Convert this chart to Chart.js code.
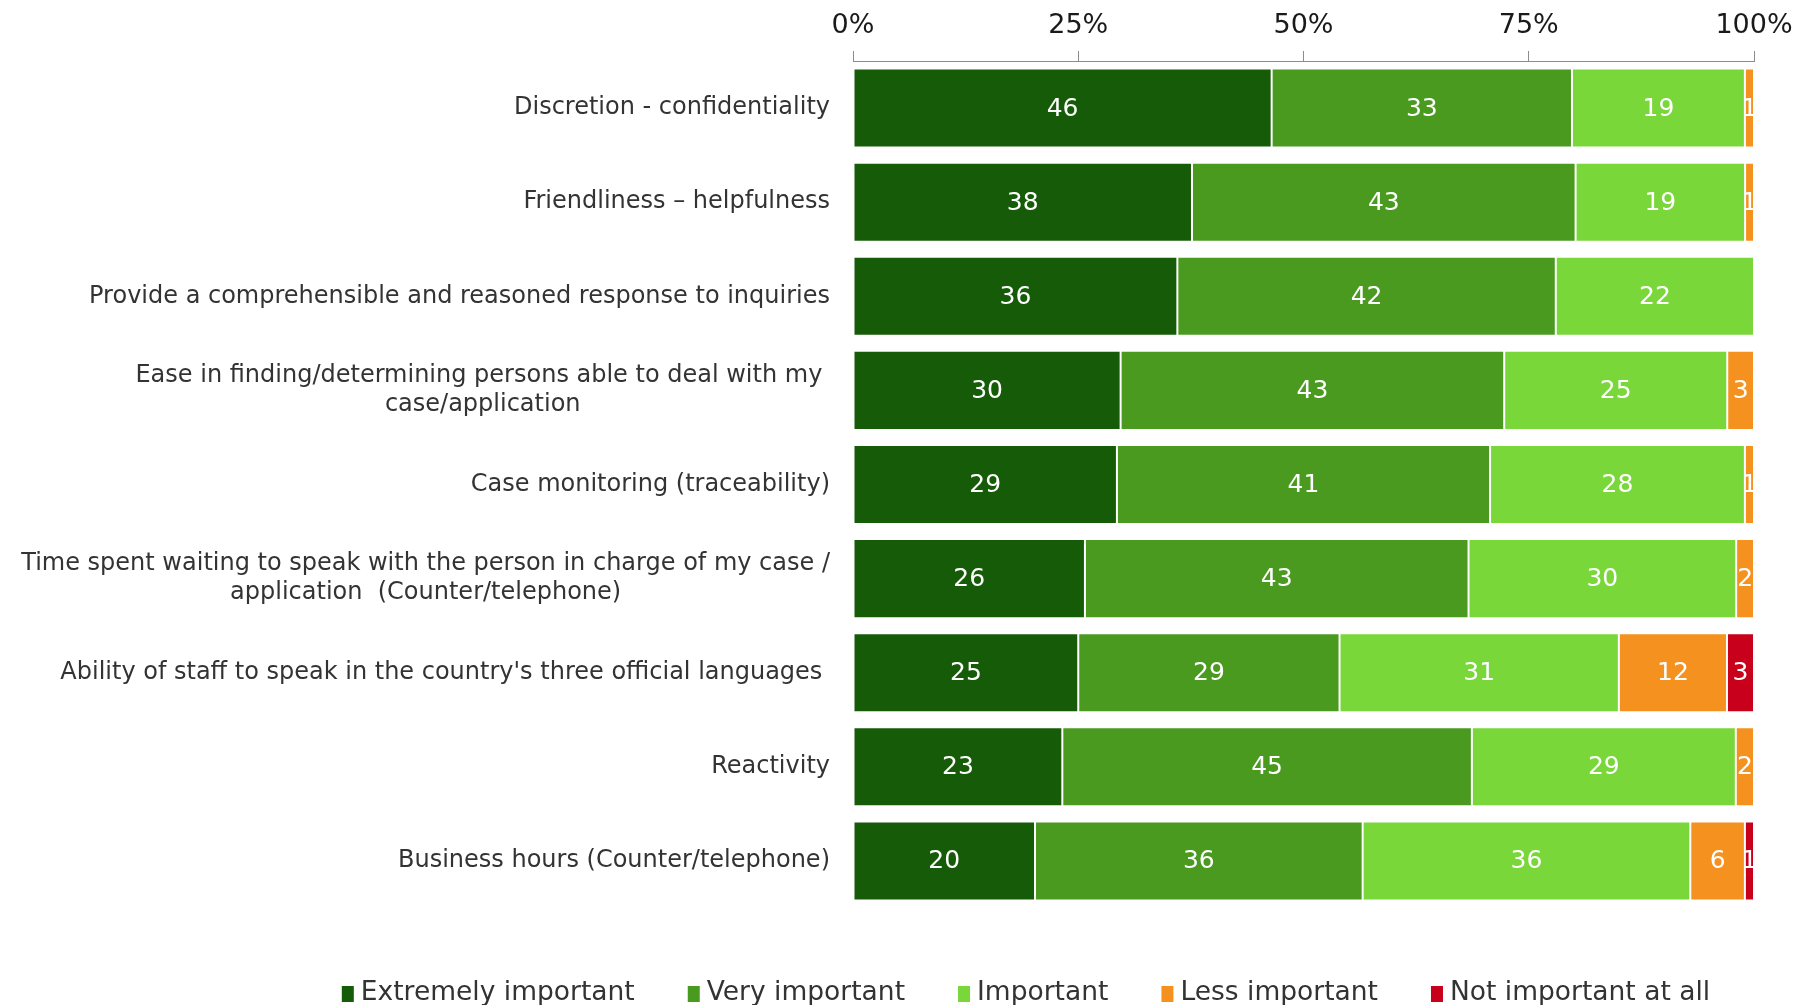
<!DOCTYPE html>
<html>
<head>
<meta charset="utf-8">
<script src="https://cdn.jsdelivr.net/npm/chart.js@4.4.0/dist/chart.umd.min.js"></script>
<style>
  html, body { margin: 0; padding: 0; background: #fff; }
  #wrap { width: 1796px; height: 1005px; position: relative; }
</style>
</head>
<body>
<div id="wrap"><canvas id="myChart"></canvas></div>
<script>
// categories, top to bottom (arrays = two-line labels)
const categories = [
    'Discretion - confidentiality',
    'Friendliness \u2013 helpfulness',
    'Provide a comprehensible and reasoned response to inquiries',
    ['Ease in finding/determining persons able to deal with my ', 'case/application'],
    'Case monitoring (traceability)',
    ['Time spent waiting to speak with the person in charge of my case /', 'application  (Counter/telephone)'],
    "Ability of staff to speak in the country's three official languages ",
    'Reactivity',
    'Business hours (Counter/telephone)'
];

const seriesNames = ['Extremely important', 'Very important', 'Important', 'Less important', 'Not important at all'];
const seriesColors = ['#165c08', '#4a9a20', '#79d73a', '#f5921f', '#c8001b'];

const extremelyImportant = [46, 38, 36, 30, 29, 26, 25, 23, 20];
const veryImportant = [33, 43, 42, 43, 41, 43, 29, 45, 36];
const important = [19, 19, 22, 25, 28, 30, 31, 29, 36];
const lessImportant = [1, 1, 0, 3, 1, 2, 12, 2, 6];
const notImportant = [0, 0, 0, 0, 0, 0, 3, 0, 1];

const xTicks = [0, 25, 50, 75, 100];

const FONT = "'DejaVu Sans', Verdana, sans-serif";

const allSeries = [extremelyImportant, veryImportant, important, lessImportant, notImportant];

// each bar is scaled to its own row total so it fills 0-100%
const rowTotals = categories.map((c, i) => allSeries.reduce((sum, s) => sum + s[i], 0));

const datasets = allSeries.map((values, k) => ({
    label: seriesNames[k],
    data: values.map((v, i) => v / rowTotals[i] * 100),
    rawValues: values,
    backgroundColor: seriesColors[k],
    borderColor: 'rgba(255, 255, 255, 0.25)',
    borderWidth: 1,
    borderSkipped: false,
    barPercentage: 0.84,
    categoryPercentage: 1
}));

// category names, right aligned next to the bars, multi-line ones centred on each other
const categoryLabels = {
    id: 'categoryLabels',
    afterDraw(chart) {
        const ctx = chart.ctx;
        const yScale = chart.scales.y;
        const rightX = chart.chartArea.left - 23;
        const lineHeight = 29;
        ctx.save();
        ctx.font = '24px ' + FONT;
        ctx.fillStyle = '#333333';
        ctx.textAlign = 'center';
        ctx.textBaseline = 'middle';
        categories.forEach((label, i) => {
            const lines = Array.isArray(label) ? label : [label];
            const maxW = Math.max(...lines.map(l => ctx.measureText(l).width));
            const cx = rightX - maxW / 2;
            const cy = yScale.getPixelForValue(i);
            lines.forEach((line, j) => {
                ctx.fillText(line, cx, cy + (j - (lines.length - 1) / 2) * lineHeight);
            });
        });
        ctx.restore();
    }
};

// value printed in the middle of every segment
const segmentValues = {
    id: 'segmentValues',
    afterDatasetsDraw(chart) {
        const ctx = chart.ctx;
        const area = chart.chartArea;
        ctx.save();
        ctx.beginPath();
        ctx.rect(area.left, area.top, area.right - area.left, area.bottom - area.top);
        ctx.clip();
        ctx.font = '25px ' + FONT;
        ctx.fillStyle = '#ffffff';
        ctx.textAlign = 'center';
        ctx.textBaseline = 'middle';
        chart.data.datasets.forEach((ds, k) => {
            chart.getDatasetMeta(k).data.forEach((bar, i) => {
                const v = ds.rawValues[i];
                if (!v) return;
                const p = bar.getCenterPoint();
                ctx.fillText(String(v), p.x, p.y + 1);
            });
        });
        ctx.restore();
    }
};

// legend row along the bottom
const bottomLegend = {
    id: 'bottomLegend',
    afterDraw(chart) {
        const ctx = chart.ctx;
        const boxW = 12, boxH = 16, textGap = 7, itemGap = 53;
        const y = 993;
        ctx.save();
        ctx.font = '26.5px ' + FONT;
        ctx.textBaseline = 'middle';
        ctx.textAlign = 'left';
        const widths = seriesNames.map(n => boxW + textGap + ctx.measureText(n).width);
        const total = widths.reduce((a, b) => a + b, 0) + itemGap * (widths.length - 1);
        let x = 1026 - total / 2;
        seriesNames.forEach((name, k) => {
            ctx.fillStyle = seriesColors[k];
            ctx.fillRect(x, y - boxH / 2 + 1, boxW, boxH);
            ctx.fillStyle = '#333333';
            ctx.fillText(name, x + boxW + textGap, y);
            x += widths[k] + itemGap;
        });
        ctx.restore();
    }
};

const ctx = document.getElementById('myChart').getContext('2d');
const myChart = new Chart(ctx, {
    type: 'bar',
    data: {
        labels: categories,
        datasets: datasets
    },
    options: {
        indexAxis: 'y',
        responsive: true,
        maintainAspectRatio: false,
        animation: false,
        layout: {
            padding: { left: 853, right: 42, top: 0, bottom: 97 }
        },
        scales: {
            x: {
                position: 'top',
                stacked: true,
                min: 0,
                max: 100,
                afterBuildTicks: scale => {
                    scale.ticks = xTicks.map(v => ({ value: v }));
                },
                // the end labels may hang past the plot, the margins are set above
                afterFit: scale => {
                    scale.paddingLeft = 0;
                    scale.paddingRight = 0;
                },
                ticks: {
                    callback: v => v + '%',
                    color: '#1a1a1a',
                    padding: 12,
                    maxRotation: 0,
                    font: { family: FONT, size: 27, lineHeight: 1 }
                },
                grid: {
                    drawOnChartArea: false,
                    drawTicks: true,
                    tickLength: 10,
                    color: '#8c8c8c'
                },
                border: { display: true, color: '#8c8c8c', width: 1 }
            },
            y: {
                stacked: true,
                display: false
            }
        },
        plugins: {
            legend: { display: false },
            tooltip: { enabled: false }
        }
    },
    plugins: [categoryLabels, segmentValues, bottomLegend]
});
</script>
</body>
</html>
